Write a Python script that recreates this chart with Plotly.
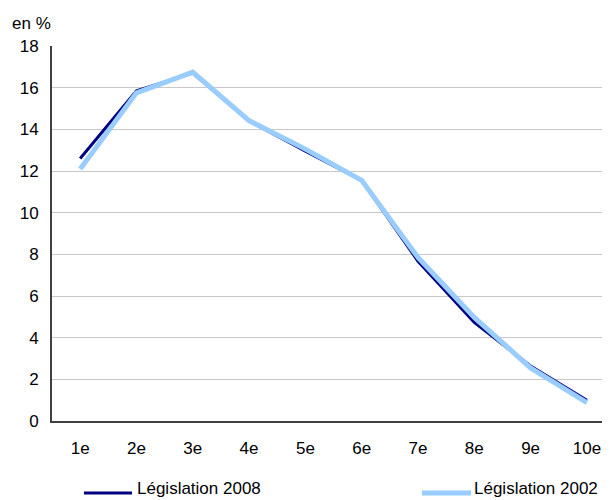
import plotly.graph_objects as go

categories = ["1e", "2e", "3e", "4e", "5e", "6e", "7e", "8e", "9e", "10e"]
leg2008 = [12.6, 15.85, 16.7, 14.4, 12.95, 11.55, 7.67, 4.73, 2.64, 1.0]
leg2002 = [12.1, 15.75, 16.75, 14.42, 13.05, 11.55, 7.85, 4.97, 2.55, 0.88]
yticks = [0, 2, 4, 6, 8, 10, 12, 14, 16, 18]
series_names = ["Législation 2008", "Législation 2002"]
series_colors = ["#000080", "#99CCFF"]
series_widths = [3, 5]

FONT = "Liberation Sans, Arial, sans-serif"
FS = 17

fig = go.Figure()
fig.add_trace(go.Scatter(x=categories, y=leg2008, mode="lines", name=series_names[0],
                         line=dict(color=series_colors[0], width=series_widths[0]),
                         showlegend=False))
fig.add_trace(go.Scatter(x=categories, y=leg2002, mode="lines", name=series_names[1],
                         line=dict(color=series_colors[1], width=series_widths[1]),
                         showlegend=False))

# custom legend (paper coordinates)
line_y = -0.192
text_y = -0.1813
leg_items = [(0.0573, 0.1434, 0.149), (0.663, 0.751, 0.753)]
shapes = []
annotations = []
for (x0, x1, xt), name, col, w in zip(leg_items, series_names, series_colors, series_widths):
    shapes.append(dict(type="line", xref="paper", yref="paper", x0=x0, x1=x1, y0=line_y, y1=line_y,
                       line=dict(color=col, width=w)))
    annotations.append(dict(text=name, xref="paper", yref="paper", x=xt, y=text_y,
                            xanchor="left", yanchor="middle", showarrow=False,
                            font=dict(size=FS, family=FONT, color="black")))
annotations.append(dict(text="en %", xref="paper", yref="paper", x=-0.0753, y=1.061,
                        xanchor="left", yanchor="middle", showarrow=False,
                        font=dict(size=FS, family=FONT, color="black")))

# the page adds an 8px body margin, so the figure is sized to fill the 610x500 window
fig.update_layout(
    width=602, height=492,
    margin=dict(l=44, r=0, t=38, b=79, autoexpand=False),
    paper_bgcolor="white", plot_bgcolor="white",
    font=dict(family=FONT, size=FS, color="black"),
    showlegend=False,
    shapes=shapes,
    annotations=annotations,
)
fig.update_xaxes(type="category", range=[-0.5, 9.41], showline=True, linecolor="#404040",
                 linewidth=2, showgrid=False, ticks="", ticklen=0, ticklabelstandoff=11)
fig.update_yaxes(range=[0, 18], tickvals=yticks, showline=True, linecolor="#404040",
                 linewidth=2, showgrid=True, gridcolor="#c8c8c8", gridwidth=1.2,
                 ticks="", ticklen=0, ticklabelstandoff=8, zeroline=False)

fig.write_html("out.html")
